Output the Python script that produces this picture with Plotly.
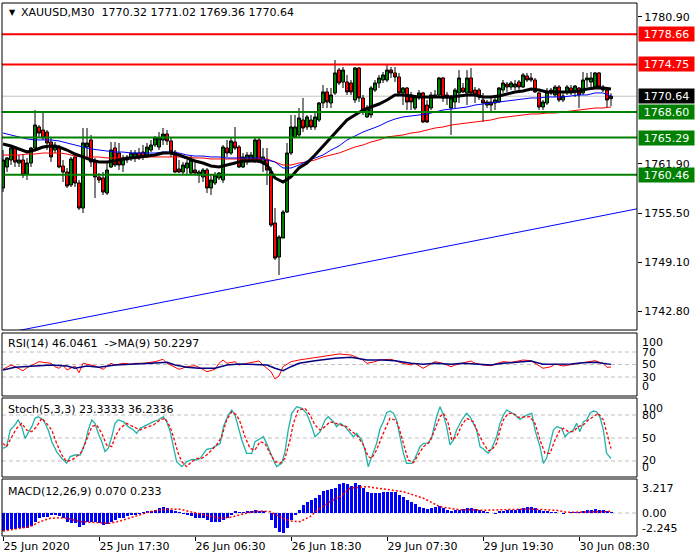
import plotly.graph_objects as go

W, H = 700, 560
FONT = "DejaVu Sans"

# ---------------- price candles (bar index 0..152) ----------------
opens = [1758.75,1761.47,1762.38,1763.93,1761.99,1762.38,1760.56,1761.99,1763.93,1766.65,
         1766.26,1766.00,1764.71,1763.67,1764.06,1761.60,1760.82,1759.14,1762.77,1759.40,
         1756.16,1764.06,1764.97,1762.12,1760.18,1760.05,1758.10,1761.47,1763.93,1763.28,
         1761.73,1762.77,1762.64,1762.64,1763.28,1763.41,1762.77,1763.67,1764.32,1764.06,
         1764.97,1765.74,1764.84,1763.41,1761.21,1760.82,1761.34,1760.69,1761.08,1760.43,
         1760.18,1761.08,1758.75,1759.40,1760.05,1759.79,1763.93,1763.28,1764.71,1764.06,
         1761.47,1762.12,1762.38,1762.38,1764.97,1762.12,1762.38,1760.82,1754.22,1749.81,
         1752.27,1755.64,1763.28,1765.36,1765.62,1767.56,1766.65,1767.56,1766.65,1767.56,
         1769.76,1771.19,1769.76,1771.06,1774.03,1772.48,1772.48,1772.35,1770.15,1774.29,
         1770.41,1767.95,1768.21,1771.44,1772.35,1772.74,1772.74,1774.03,1773.65,1773.13,
         1771.06,1771.70,1770.80,1769.11,1770.54,1771.06,1769.50,1769.11,1770.54,1770.80,
         1773.00,1770.80,1769.11,1769.89,1771.06,1771.70,1771.06,1773.00,1771.44,1771.44,
         1770.15,1769.50,1769.89,1769.76,1769.89,1771.44,1772.22,1771.83,1771.83,1772.48,
         1771.83,1773.26,1773.00,1772.74,1771.06,1769.24,1769.76,1771.06,1770.80,1771.83,
         1770.15,1771.19,1771.70,1771.19,1771.70,1771.06,1772.74,1772.48,1771.83,1773.65,
         1771.44,1771.44,1770.32]
highs = [1763.67,1762.77,1764.06,1764.06,1763.02,1763.02,1762.64,1764.06,1768.85,1766.91,
         1768.59,1766.26,1765.23,1764.71,1764.32,1762.38,1761.34,1762.77,1763.02,1759.79,
         1766.52,1766.52,1765.62,1762.64,1760.69,1760.82,1761.99,1764.71,1764.71,1764.58,
         1763.02,1763.02,1763.67,1763.67,1763.93,1764.32,1764.58,1764.97,1765.49,1766.00,
         1766.52,1766.26,1765.23,1763.67,1762.38,1762.12,1762.38,1763.02,1762.12,1761.08,
         1761.34,1761.34,1760.43,1760.82,1760.82,1764.32,1764.97,1765.23,1766.65,1764.32,
         1763.28,1763.41,1763.41,1765.23,1765.23,1763.93,1763.93,1761.47,1756.16,1752.66,
         1755.90,1764.58,1768.21,1768.21,1769.11,1770.41,1768.21,1768.21,1768.46,1769.89,
         1772.09,1771.70,1771.70,1775.33,1774.29,1774.42,1773.39,1772.74,1774.42,1774.42,
         1770.80,1769.50,1771.96,1772.74,1773.39,1773.78,1774.68,1774.42,1774.42,1773.65,
         1771.83,1771.83,1771.19,1770.80,1771.44,1771.19,1770.15,1771.19,1771.44,1773.13,
         1773.13,1771.19,1770.80,1771.70,1774.03,1772.35,1774.03,1774.29,1771.83,1771.70,
         1771.06,1770.15,1770.54,1770.41,1771.83,1772.74,1772.48,1772.61,1772.74,1772.74,
         1773.65,1773.65,1773.65,1773.00,1771.19,1770.15,1771.70,1771.70,1772.09,1772.09,
         1771.19,1772.09,1772.09,1772.09,1771.83,1773.78,1773.65,1773.78,1773.78,1773.78,
         1772.09,1771.83,1771.02]
lows = [1758.23,1760.82,1761.73,1761.47,1761.47,1760.05,1759.79,1761.47,1763.67,1765.36,
        1764.97,1763.67,1762.12,1763.28,1761.30,1759.53,1758.75,1758.88,1758.88,1755.90,
        1755.51,1762.77,1761.47,1757.45,1759.40,1757.84,1757.84,1761.34,1761.47,1761.08,
        1760.82,1761.99,1762.25,1762.12,1762.38,1762.38,1762.64,1763.41,1764.06,1763.67,
        1764.32,1764.32,1762.77,1760.69,1760.69,1760.56,1760.43,1760.43,1760.43,1759.40,
        1759.53,1758.10,1757.84,1759.14,1759.79,1759.40,1762.77,1763.02,1763.67,1761.34,
        1761.34,1761.73,1762.12,1761.99,1761.99,1760.82,1759.14,1753.70,1749.42,1747.48,
        1752.27,1755.51,1763.02,1765.23,1765.36,1766.00,1766.26,1766.26,1766.26,1767.30,
        1769.11,1769.11,1769.11,1770.80,1772.09,1771.70,1770.80,1770.80,1769.76,1769.89,
        1768.21,1767.82,1767.82,1771.19,1771.70,1772.35,1772.48,1773.00,1772.48,1770.80,
        1769.50,1768.85,1768.85,1768.85,1770.15,1767.17,1767.17,1768.85,1770.41,1770.41,
        1769.89,1769.50,1765.62,1769.11,1769.76,1771.06,1769.50,1770.80,1769.76,1770.15,
        1767.30,1769.11,1768.59,1768.85,1769.76,1771.06,1771.19,1771.44,1771.44,1771.44,
        1771.70,1772.48,1772.48,1771.06,1768.85,1768.85,1769.50,1770.80,1770.54,1769.89,
        1769.89,1770.80,1770.80,1770.54,1769.11,1770.80,1771.83,1771.83,1771.70,1771.70,
        1771.19,1769.24,1769.36]
closes = [1762.38,1762.64,1763.93,1762.12,1762.38,1760.43,1761.99,1763.93,1766.91,1765.87,
          1765.23,1764.58,1762.77,1764.32,1761.47,1760.82,1759.01,1762.51,1759.40,1756.16,
          1764.58,1764.58,1762.12,1760.18,1759.79,1758.23,1761.08,1763.67,1761.73,1761.73,
          1762.64,1762.38,1763.28,1763.28,1762.64,1762.77,1764.06,1764.32,1765.23,1765.23,
          1765.74,1764.84,1763.41,1760.82,1760.82,1761.73,1761.99,1762.38,1760.69,1760.82,
          1761.08,1758.75,1759.79,1760.43,1760.69,1764.06,1763.28,1764.84,1763.93,1761.47,
          1762.77,1763.02,1763.02,1764.97,1762.12,1762.77,1761.08,1753.96,1749.68,1752.40,
          1755.64,1763.28,1766.65,1766.65,1767.82,1766.52,1767.95,1766.65,1767.95,1769.76,
          1771.19,1769.89,1770.80,1773.65,1772.35,1774.03,1771.19,1771.19,1774.29,1770.41,
          1768.59,1769.11,1771.70,1772.35,1773.00,1773.39,1774.03,1773.65,1773.13,1771.06,
          1771.70,1769.89,1769.89,1770.54,1771.06,1767.30,1767.30,1770.80,1770.80,1773.00,
          1770.41,1770.41,1770.41,1771.44,1773.00,1771.19,1773.00,1771.06,1770.80,1770.54,
          1769.76,1769.89,1769.50,1770.15,1771.70,1772.35,1771.83,1772.35,1772.22,1771.83,
          1773.39,1772.74,1772.74,1771.19,1769.24,1769.89,1771.19,1771.44,1771.83,1770.15,
          1770.67,1771.83,1771.19,1771.96,1770.80,1772.74,1773.00,1773.00,1773.65,1771.83,
          1771.83,1770.15,1770.64]
bars = list(range(len(closes)))

# moving averages, read every second bar
ma_bars = list(range(0, 153, 2))
ma_black = [1764.45,1764.19,1763.80,1763.41,1763.67,1764.06,1764.19,1764.06,1763.67,1763.15,
            1762.77,1762.38,1762.12,1762.12,1762.25,1762.51,1762.64,1762.77,1762.89,1763.02,
            1763.28,1763.28,1763.02,1762.64,1762.25,1761.99,1761.60,1761.47,1761.73,1761.99,
            1762.25,1762.25,1762.25,1761.73,1760.05,1759.53,1760.18,1761.34,1761.99,1763.02,
            1764.19,1765.36,1766.39,1767.56,1768.21,1768.85,1769.24,1769.63,1770.15,1770.80,
            1770.80,1770.67,1770.54,1770.54,1770.54,1770.54,1770.54,1770.67,1770.80,1770.80,
            1770.54,1770.54,1770.67,1770.93,1771.19,1771.31,1771.57,1771.44,1771.19,1771.19,
            1771.19,1771.19,1771.31,1771.57,1771.70,1771.70,1771.57]
ma_blue = [1765.87,1765.62,1765.36,1765.10,1764.97,1764.97,1764.97,1764.84,1764.58,1764.32,
           1764.06,1763.80,1763.67,1763.54,1763.41,1763.41,1763.28,1763.28,1763.28,1763.28,
           1763.41,1763.41,1763.28,1763.02,1762.89,1762.89,1762.77,1762.77,1762.64,1762.64,
           1762.64,1762.64,1762.64,1762.38,1762.12,1761.34,1761.34,1761.73,1762.25,1762.64,
           1763.02,1763.67,1764.19,1764.97,1765.49,1766.00,1766.39,1766.78,1767.30,1767.69,
           1767.95,1768.08,1768.21,1768.34,1768.59,1768.85,1768.98,1769.11,1769.24,1769.50,
           1769.63,1769.76,1769.89,1770.02,1770.15,1770.28,1770.41,1770.41,1770.54,1770.54,
           1770.54,1770.67,1770.80,1770.80,1771.06,1771.06,1770.67]
ma_red = [1763.02,1763.02,1763.02,1763.15,1763.15,1763.28,1763.28,1763.28,1763.15,1762.89,
          1762.77,1762.77,1762.77,1762.64,1762.64,1762.64,1762.64,1762.64,1762.77,1762.77,
          1762.77,1762.77,1762.77,1762.77,1762.64,1762.64,1762.51,1762.51,1762.51,1762.51,
          1762.51,1762.51,1762.51,1762.51,1762.12,1761.73,1761.73,1761.99,1762.12,1762.38,
          1762.77,1763.02,1763.28,1763.67,1764.06,1764.32,1764.71,1764.97,1765.36,1765.49,
          1765.62,1765.87,1766.00,1766.26,1766.52,1766.65,1766.91,1767.04,1767.17,1767.30,
          1767.43,1767.56,1767.82,1767.95,1768.08,1768.21,1768.34,1768.34,1768.46,1768.46,
          1768.59,1768.72,1768.85,1768.98,1769.11,1769.11,1769.24]

# trend line (bar, price) and horizontal levels
trend_bars = [4, 158.5]
trend_prices = [1740.30, 1756.05]
red_levels = [1778.66, 1774.75]
green_levels = [1768.60, 1765.29, 1760.46]
last_price = 1770.64
price_ticks = [1780.90, 1761.90, 1755.50, 1749.10, 1742.80]

# time axis
time_ticks = [0, 24, 48, 72, 96, 120, 144]
time_labels = ["25 Jun 2020", "25 Jun 17:30", "26 Jun 06:30", "26 Jun 18:30",
               "29 Jun 07:30", "29 Jun 19:30", "30 Jun 08:30"]

# ---------------- RSI ----------------
rsi_bars = [0,1,2,3,5,6,8,9,10,12,13,14,15,16,18,19,20,21,23,24,25,27,28,30,32,33,35,37,38,40,
            41,43,44,46,48,49,51,53,54,55,56,58,59,61,63,64,65,67,68,69,70,72,74,77,79,82,84,87,88,90,
            91,93,94,97,98,100,102,103,105,107,108,110,112,113,115,117,118,120,122,123,
            125,127,128,130,132,133,135,137,138,140,142,143,145,147,148,150,151,152]
rsi_vals = [42.3,45.5,49.2,46.5,40.1,44.9,51.9,54.5,53.5,51.9,46.5,43.9,49.2,41.2,47.6,36.9,51.9,50.8,47.6,45.5,
            42.3,51.9,49.2,51.9,50.3,51.9,51.9,53.5,54.5,58.3,51.9,45.5,42.3,46.5,48.1,45.5,38.5,42.3,51.9,57.2,
            51.9,54.5,49.2,51.9,54.5,55.6,49.2,38.5,26.8,31.6,46.5,54.5,57.2,59.9,62.5,65.2,66.8,65.2,62.5,57.2,
            51.9,54.5,57.2,58.3,56.1,51.9,49.2,51.9,43.9,51.9,54.5,51.9,46.5,49.2,51.9,55.6,51.9,49.2,48.1,50.8,
            54.5,53.5,54.5,57.2,56.1,51.9,43.9,46.5,50.8,47.6,49.2,50.8,52.9,54.5,56.1,51.9,45.5,46.0]
rsima_bars = [0,3,8,12,16,18,21,24,28,33,37,41,43,46,49,53,56,59,63,66,68,70,72,74,78,83,87,91,95,98,
              102,105,108,112,115,118,122,125,128,132,135,138,142,145,148,152]
rsima_vals = [41.2,45.5,47.6,49.2,47.6,43.9,47.6,45.5,49.2,50.3,51.9,53.5,49.2,45.5,43.9,43.9,49.2,50.8,50.3,49.2,
              43.9,40.1,46.5,51.9,56.1,59.9,61.5,57.2,57.2,56.1,51.9,50.3,51.9,50.3,51.9,50.8,49.2,51.9,53.5,55.6,
              50.3,50.3,50.8,52.9,53.5,50.2]

# ---------------- Stochastic ----------------
stk_bars = [0.0,0.9,1.8,3.0,3.8,4.7,5.5,6.3,7.2,8.0,8.8,10.1,11.3,12.2,13.4,14.7,15.9,16.8,18.0,19.3,
            20.5,21.3,22.2,23.0,23.8,24.7,25.5,26.3,27.2,28.0,28.8,30.1,31.3,32.6,33.4,34.3,35.9,37.6,38.8,40.1,
            40.9,41.8,42.6,43.4,44.7,45.9,47.2,48.4,49.3,50.1,50.9,52.2,53.0,54.3,55.1,56.3,57.2,58.0,58.8,59.7,
            60.9,62.2,63.0,64.3,65.1,65.9,66.8,67.6,68.4,69.7,70.5,71.3,72.2,73.4,74.7,75.9,77.2,78.0,79.3,80.5,
            81.3,82.6,83.4,84.3,85.5,86.75,87.6,88.4,89.7,90.5,91.3,92.2,93.4,94.3,95.1,95.9,96.8,97.6,98.4,99.25,
            100.1,100.9,102.2,103.0,104.25,105.1,106.3,107.2,108.4,109.25,110.1,110.9,111.75,112.6,113.4,114.7,115.9,116.75,117.6,118.4,
            119.25,120.1,121.3,122.2,123.4,124.25,125.1,125.9,126.75,128.0,129.25,130.9,132.2,133.0,134.25,135.1,135.9,136.75,137.6,138.4,
            139.7,140.5,141.3,142.6,143.4,144.25,145.1,145.9,146.75,147.6,148.4,149.25,150.1,150.9,152.0]
stk_vals = [36.5,38.7,60.4,67.0,73.5,64.8,49.6,56.1,64.8,75.7,77.8,73.5,60.4,45.2,32.2,23.5,17.0,25.7,27.8,27.8,
            43.0,60.4,73.5,69.1,56.1,45.2,32.2,36.5,51.7,69.1,73.5,71.3,64.8,60.4,56.1,62.6,67.0,71.3,73.5,77.8,
            71.3,58.3,38.7,19.1,12.6,19.1,22.2,21.3,23.5,30.0,35.2,36.5,38.7,43.0,64.8,80.0,86.5,80.0,64.8,47.4,
            30.0,30.0,45.2,49.6,51.7,43.0,30.0,21.3,12.6,17.0,32.2,60.4,82.2,90.9,88.7,82.2,64.8,51.7,58.3,73.5,
            77.8,71.3,64.8,69.1,64.8,56.1,51.7,56.1,47.4,34.3,12.6,25.7,43.0,62.6,71.3,83.0,85.2,82.2,73.5,51.7,
            30.0,17.0,17.0,23.5,38.7,43.0,43.0,51.7,77.8,90.9,80.0,64.8,40.9,47.4,60.4,73.5,82.2,77.8,69.1,60.4,
            38.7,35.7,30.0,36.5,51.7,69.1,80.0,86.5,84.3,80.0,74.3,80.0,82.2,60.4,38.7,17.0,23.5,43.0,60.4,64.8,
            62.6,51.7,56.1,60.4,69.1,58.3,71.3,73.5,82.2,85.2,84.3,77.0,60.4,30.0,23.3]
std_bars = [0.0,0.9,2.2,3.4,4.7,5.9,7.2,8.4,9.7,10.9,12.2,13.4,14.7,15.9,17.2,18.4,19.7,20.9,22.2,23.4,
            24.7,25.9,27.2,28.0,29.25,30.9,32.6,34.25,35.9,37.6,39.25,40.5,41.75,42.6,43.8,44.7,45.9,47.2,48.4,49.7,
            50.9,52.2,53.4,54.7,55.9,57.2,58.4,59.25,60.5,61.75,63.0,64.25,65.5,66.75,68.0,69.25,70.5,71.75,72.6,73.8,
            75.5,76.75,78.0,79.25,80.5,81.75,83.0,84.25,85.9,86.75,88.4,90.1,91.3,92.2,93.4,94.7,95.9,96.75,98.0,98.8,
            100.1,101.3,102.6,103.8,105.1,106.75,108.0,109.25,110.1,111.3,112.2,113.4,114.7,115.9,117.6,118.8,120.1,121.3,122.2,123.4,
            124.25,125.1,126.3,127.6,128.8,130.1,131.75,133.0,134.25,135.5,136.75,138.0,139.25,140.1,141.3,142.6,143.8,145.1,146.3,147.6,
            148.8,150.1,151.3,152.0]
std_vals = [43.0,38.7,51.7,62.6,69.1,60.4,58.3,64.8,75.7,69.1,60.4,43.0,27.8,19.1,21.3,25.7,32.2,47.4,64.8,67.0,
            56.1,40.9,38.7,51.7,62.6,69.1,64.8,60.4,63.9,67.0,73.5,75.7,64.8,51.7,30.0,19.1,12.6,19.1,23.5,23.5,
            27.8,34.3,40.9,51.7,73.5,84.3,80.0,71.3,51.7,36.5,34.3,45.2,43.0,30.0,19.1,17.0,23.5,47.4,69.1,86.5,
            88.7,80.0,67.0,60.4,64.8,71.3,69.1,67.0,64.8,60.4,53.9,40.9,25.7,23.5,34.3,51.7,67.0,75.7,73.5,67.0,
            43.0,21.3,17.8,27.8,38.7,45.2,60.4,77.8,82.2,69.1,47.4,51.7,67.0,75.7,71.3,56.1,43.0,33.5,34.3,43.0,
            60.4,73.5,82.2,82.2,77.0,77.0,77.8,69.1,47.4,30.0,30.0,47.4,60.4,62.6,58.3,58.3,64.8,67.0,73.5,77.8,
            82.2,73.5,51.7,36.2]

# ---------------- MACD ----------------
macd_hist = [-2.32,-2.19,-2.06,-2.06,-1.97,-1.97,-1.89,-1.63,-1.12,-0.69,
             -0.47,-0.47,-0.26,-0.17,-0.34,-0.60,-1.12,-1.24,-1.33,-1.76,
             -1.54,-1.12,-1.12,-1.20,-1.33,-1.54,-1.46,-1.12,-0.90,-0.69,
             -0.60,-0.43,-0.26,-0.17,-0.04,0.09,0.17,0.30,0.43,0.60,
             0.77,0.60,0.43,0.26,0.09,-0.09,-0.17,-0.34,-0.60,-0.69,
             -0.69,-0.90,-1.12,-1.12,-1.12,-0.90,-0.60,-0.26,0.17,0.09,
             0.09,0.17,0.17,0.39,0.30,0.17,0.0,-0.90,-1.97,-2.40,
             -2.62,-1.97,-0.90,-0.17,0.39,1.03,1.46,1.67,1.89,2.32,
             2.83,2.96,3.09,3.26,3.77,3.86,3.77,3.52,3.82,3.60,
             3.17,2.66,2.53,2.53,2.53,2.66,2.74,2.74,2.66,2.32,
             2.10,1.67,1.46,1.12,0.81,0.60,0.51,0.60,0.81,0.94,
             0.69,0.39,0.26,0.34,0.34,0.47,0.60,0.60,0.51,0.34,
             0.17,0.09,0.0,-0.09,0.17,0.26,0.34,0.39,0.43,0.51,
             0.60,0.73,0.73,0.60,0.34,0.17,0.17,0.09,0.04,0.0,
             -0.09,0.0,0.09,0.09,0.04,0.26,0.34,0.43,0.51,0.43,
             0.34,0.26,0.07]
sig_bars = [0,3.4,6.75,9.25,11.75,14.25,16.75,19.25,21.75,24.25,26.75,29.25,31.75,34.25,36.75,39.25,41.75,44.25,
            46.75,49.25,51.75,54.25,56.75,59.25,61.75,64.25,66.75,69.25,71.75,74.25,76.75,79.25,81.75,84.25,86.75,
            90.9,95.1,97.6,100.1,102.6,105.1,106.75,109.25,111.75,114.25,116.75,120.1,122.6,125.1,128.4,131.75,
            135.1,138.4,140.9,143.4,146.75,150.1,152]
sig_vals = [-2.32,-2.06,-1.76,-1.12,-0.69,-0.60,-0.77,-1.12,-1.20,-1.33,-1.33,-1.03,-0.60,-0.26,0.17,0.39,0.51,0.47,
            0.17,-0.17,-0.47,-0.69,-0.56,-0.26,0.09,0.26,0.17,-0.47,-1.03,-1.12,-0.47,0.60,1.46,2.10,3.20,
            3.39,3.09,2.96,2.74,2.32,1.89,1.46,0.81,0.60,0.43,0.43,0.34,0.39,0.43,0.43,0.51,
            0.43,0.34,0.09,0.09,0.17,0.17,0.233]

# ---------------- layout geometry (pixels) ----------------
X0, X1 = 2, 637
XRANGE = [-0.25, 158.5]
panels = {"main": (3, 330), "rsi": (333, 396), "sto": (398, 477), "macd": (479, 536)}

def ydom(p):
    top, bot = panels[p]
    return [1 - bot / H, 1 - top / H]

fig = go.Figure()

# candles
fig.add_trace(go.Candlestick(
    x=bars, open=opens, high=highs, low=lows, close=closes,
    increasing=dict(line=dict(color="black", width=1), fillcolor="#008000"),
    decreasing=dict(line=dict(color="black", width=1), fillcolor="#ff0000"),
    whiskerwidth=0, xaxis="x", yaxis="y", hoverinfo="skip"))

fig.add_trace(go.Scatter(x=ma_bars, y=ma_red, mode="lines", line=dict(color="#ff0000", width=1),
                         xaxis="x", yaxis="y", hoverinfo="skip"))
fig.add_trace(go.Scatter(x=ma_bars, y=ma_blue, mode="lines", line=dict(color="#0000ff", width=1),
                         xaxis="x", yaxis="y", hoverinfo="skip"))
fig.add_trace(go.Scatter(x=ma_bars, y=ma_black, mode="lines", line=dict(color="#000000", width=3),
                         xaxis="x", yaxis="y", hoverinfo="skip"))
fig.add_trace(go.Scatter(x=trend_bars, y=trend_prices, mode="lines", line=dict(color="#0000ff", width=1),
                         xaxis="x", yaxis="y", hoverinfo="skip"))

# RSI
fig.add_trace(go.Scatter(x=rsi_bars, y=rsi_vals, mode="lines", line=dict(color="#ff0000", width=1),
                         xaxis="x2", yaxis="y2", hoverinfo="skip"))
fig.add_trace(go.Scatter(x=rsima_bars, y=rsima_vals, mode="lines", line=dict(color="#000080", width=1.5),
                         xaxis="x2", yaxis="y2", hoverinfo="skip"))
# Stochastic
fig.add_trace(go.Scatter(x=stk_bars, y=stk_vals, mode="lines", line=dict(color="#20b2aa", width=1.3),
                         xaxis="x3", yaxis="y3", hoverinfo="skip"))
fig.add_trace(go.Scatter(x=std_bars, y=std_vals, mode="lines",
                         line=dict(color="#ff0000", width=1.3, dash="3px,2px"),
                         xaxis="x3", yaxis="y3", hoverinfo="skip"))
# MACD
fig.add_trace(go.Bar(x=bars, y=macd_hist, width=0.75, marker=dict(color="#0000ff", line=dict(width=0)),
                     xaxis="x4", yaxis="y4", hoverinfo="skip"))
fig.add_trace(go.Scatter(x=sig_bars, y=sig_vals, mode="lines",
                         line=dict(color="#ff0000", width=1.5, dash="2px,2px"),
                         xaxis="x4", yaxis="y4", hoverinfo="skip"))

shapes = []
# current price line (behind)
shapes.append(dict(type="line", xref="x domain", x0=0, x1=1, yref="y", y0=last_price, y1=last_price,
                   line=dict(color="#c0c0c0", width=1), layer="below"))
for lv in red_levels:
    shapes.append(dict(type="line", xref="x domain", x0=0, x1=1, yref="y", y0=lv, y1=lv,
                       line=dict(color="#ff0000", width=2), layer="above"))
for lv in green_levels:
    shapes.append(dict(type="line", xref="x domain", x0=0, x1=1, yref="y", y0=lv, y1=lv,
                       line=dict(color="#008000", width=2), layer="above"))
# dashed levels in sub windows
for ax, lvls in (("y2", [70, 50, 30]), ("y3", [80, 50, 20]), ("y4", [0])):
    xr = {"y2": "x2 domain", "y3": "x3 domain", "y4": "x4 domain"}[ax]
    for lv in lvls:
        shapes.append(dict(type="line", xref=xr, x0=0, x1=1, yref=ax, y0=lv, y1=lv,
                           line=dict(color="#c0c0c0", width=1, dash="4px,3px"), layer="below"))
# panel frames
for p in panels:
    top, bot = panels[p]
    shapes.append(dict(type="rect", xref="paper", yref="paper", x0=X0 / W, x1=X1 / W,
                       y0=1 - bot / H, y1=1 - top / H, line=dict(color="black", width=1),
                       fillcolor="rgba(0,0,0,0)", layer="above"))

ann = []
def txt(x, y, text, yref="paper", xanchor="left", yanchor="middle", size=11, color="black", **kw):
    d = dict(x=x, y=y, xref="paper", yref=yref, text=text, showarrow=False, xanchor=xanchor,
             yanchor=yanchor, font=dict(family=FONT, size=size, color=color))
    d.update(kw)
    ann.append(d)

txt(7 / W, 1 - 12 / H, "▼", size=8)
txt(19 / W, 1 - 12 / H, "XAUUSD,M30\u00a0\u00a01770.32 1771.02 1769.36 1770.64")
txt(6 / W, 1 - 343 / H, "RSI(14) 46.0461\u00a0\u00a0->MA(9) 50.2297")
txt(6 / W, 1 - 409 / H, "Stoch(5,3,3) 23.3333 36.2336")
txt(6 / W, 1 - 491 / H, "MACD(12,26,9) 0.070 0.233")

# boxed price labels
for lv in red_levels:
    txt(638 / W, lv, f"{lv:.2f}", yref="y", color="white", bgcolor="#ff0000", width=53, height=12, borderpad=1)
for lv in green_levels:
    txt(638 / W, lv, f"{lv:.2f}", yref="y", color="white", bgcolor="#008000", width=53, height=12, borderpad=1)
txt(638 / W, last_price, f"{last_price:.2f}", yref="y", color="white", bgcolor="#000000", width=53, height=12, borderpad=1)

# sub-window scale labels
RX = 640 / W
txt(RX, 100, "100", yref="y2", yanchor="top", yshift=-1)
for v in (70, 50, 30):
    txt(RX, v, str(v), yref="y2")
txt(RX, 0, "0", yref="y2", yanchor="bottom", yshift=1)
txt(RX, 100, "100", yref="y3", yanchor="top")
for v in (80, 50, 20):
    txt(RX, v, str(v), yref="y3")
txt(RX, 0, "0", yref="y3", yanchor="bottom")
txt(RX, 3.217, "3.217", yref="y4")
txt(RX, 0, "0.00", yref="y4")
txt(RX, -2.245, "-2.245", yref="y4", yshift=2)

xcommon = dict(domain=[X0 / W, X1 / W], range=XRANGE, showgrid=False, zeroline=False,
               showline=False, fixedrange=True, automargin=False)
ycommon = dict(side="right", showgrid=False, zeroline=False, fixedrange=True, automargin=False)
layout = dict(
    template="none",
    width=W, height=H, autosize=False, margin=dict(l=0, r=0, t=0, b=0, pad=0),
    paper_bgcolor="white", plot_bgcolor="white", showlegend=False, hovermode=False,
    font=dict(family=FONT, size=11, color="black"),
    boxgap=0.25, boxgroupgap=0,
    xaxis=dict(**xcommon, anchor="y", showticklabels=False, ticks="", rangeslider=dict(visible=False)),
    xaxis2=dict(**xcommon, anchor="y2", showticklabels=False, ticks=""),
    xaxis3=dict(**xcommon, anchor="y3", showticklabels=False, ticks=""),
    xaxis4=dict(**xcommon, anchor="y4", tickvals=time_ticks, ticktext=time_labels,
                ticks="outside", ticklen=4, tickcolor="black", ticklabelposition="outside right",
                tickfont=dict(family=FONT, size=11, color="black")),
    yaxis=dict(**ycommon, domain=ydom("main"), range=[1740.36, 1782.71], anchor="x",
               tickvals=price_ticks, ticktext=[f"{v:.2f}" for v in price_ticks],
               ticks="outside", ticklen=4, tickcolor="black",
               tickfont=dict(family=FONT, size=11, color="black")),
    yaxis2=dict(**ycommon, domain=ydom("rsi"), range=[-0.4, 100.4], anchor="x2",
                showticklabels=False, ticks=""),
    yaxis3=dict(**ycommon, domain=ydom("sto"), range=[-0.9, 102.2], anchor="x3",
                showticklabels=False, ticks=""),
    yaxis4=dict(**ycommon, domain=ydom("macd"), range=[-2.96, 4.375], anchor="x4",
                showticklabels=False, ticks=""),
    shapes=shapes, annotations=ann, bargap=0,
)
fig.update_layout(**layout)
fig.write_html("out.html", config={"displayModeBar": False, "responsive": False},
               post_script="document.body.style.margin='0';document.body.style.padding='0';"
                           "document.body.style.overflow='hidden';")
